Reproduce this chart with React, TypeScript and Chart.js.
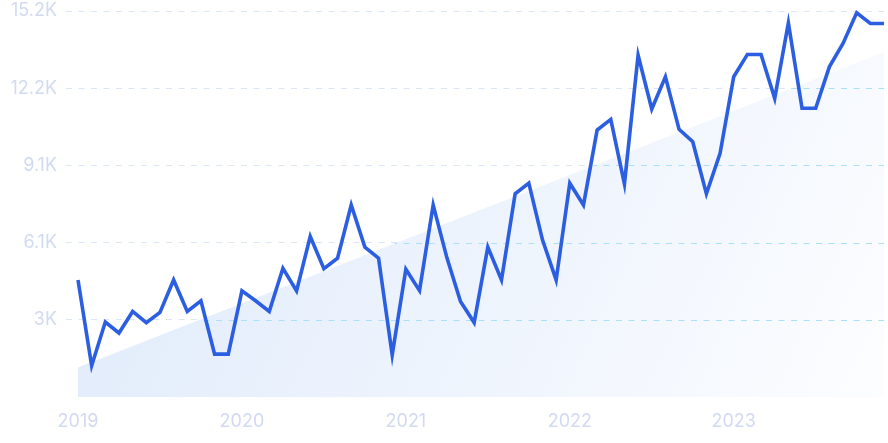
import React, { useEffect, useRef } from "react";
import { Chart, registerables } from "chart.js";

Chart.register(...registerables);

// Monthly values, Jan 2019 .. Dec 2023
const monthlyValues: number[] = [
  4610, 1230, 2950, 2520, 3370, 2930, 3330, 4610, 3370, 3790, 1690, 1690,
  4180, 3790, 3370, 5070, 4180, 6320, 5050, 5470, 7560, 5900, 5470, 1660,
  5030, 4190, 7560, 5490, 3760, 2930, 5900, 4610, 8000, 8420, 6190, 4610,
  8420, 7560, 10510, 10930, 8390, 13460, 11340, 12610, 10540, 10050, 8000, 9600,
  12610, 13490, 13490, 11760, 14730, 11370, 11370, 13000, 13920, 15130, 14710, 14710,
];

// Trend line: value at first and last month
const trendValues: number[] = [1160, 13590];

const yearLabels: string[] = ["2019", "2020", "2021", "2022", "2023"];
const yearTickIndex: number[] = [0, 12, 24, 36, 48];

const yTickValues: number[] = [3040, 6080, 9120, 12160, 15200];
const yTickLabels: string[] = ["3K", "6.1K", "9.1K", "12.2K", "15.2K"];

const GRID_DASH = [6, 6.5];

const trendGridPlugin = {
  id: "trendGrid",
  afterDatasetDraw(chart: any, args: any) {
    if (args.index !== 1) return;
    const pts = args.meta.data;
    if (!pts || pts.length < 2) return;
    const { ctx, chartArea } = chart;
    const yScale = chart.scales.y;
    const p0 = pts[0];
    const p1 = pts[pts.length - 1];
    ctx.save();
    ctx.beginPath();
    ctx.moveTo(p0.x, p0.y);
    ctx.lineTo(p1.x, p1.y);
    ctx.lineTo(p1.x, chartArea.bottom);
    ctx.lineTo(p0.x, chartArea.bottom);
    ctx.closePath();
    ctx.clip();
    ctx.strokeStyle = "#a9e1fb";
    ctx.lineWidth = 1;
    ctx.setLineDash(GRID_DASH);
    yTickValues.forEach((v) => {
      const y = Math.round(yScale.getPixelForValue(v)) + 0.5;
      ctx.beginPath();
      ctx.moveTo(chartArea.left, y);
      ctx.lineTo(chartArea.right, y);
      ctx.stroke();
    });
    ctx.restore();
  },
};

export default function App() {
  const canvasRef = useRef<HTMLCanvasElement | null>(null);

  useEffect(() => {
    if (!canvasRef.current) return;
    const linePoints = monthlyValues.map((v, i) => ({ x: i, y: v }));
    const trendPoints = [
      { x: 0, y: trendValues[0] },
      { x: monthlyValues.length - 1, y: trendValues[1] },
    ];
    const chart = new Chart(canvasRef.current, {
      type: "line",
      data: {
        datasets: [
          {
            data: linePoints,
            borderColor: "#2b5ee0",
            borderWidth: 3.6,
            pointRadius: 0,
            tension: 0,
            fill: false,
            order: 0,
            clip: false as any,
          },
          {
            data: trendPoints,
            borderWidth: 0,
            pointRadius: 0,
            fill: "origin",
            order: 1,
            backgroundColor: (c: any) => {
              const area = c.chart.chartArea;
              if (!area) return "#e6effb";
              const g = c.chart.ctx.createLinearGradient(area.left, area.top, area.right, area.bottom);
              g.addColorStop(0, "#dde9fa");
              g.addColorStop(0.55, "#eef4fd");
              g.addColorStop(1, "#fcfdff");
              return g;
            },
          },
        ],
      },
      options: {
        animation: false,
        responsive: true,
        maintainAspectRatio: false,
        layout: { padding: { top: 11, right: 4, left: 0, bottom: 0 } },
        plugins: { legend: { display: false }, tooltip: { enabled: false } },
        scales: {
          x: {
            type: "linear",
            min: -0.878,
            max: monthlyValues.length - 1,
            afterBuildTicks: (scale: any) => {
              scale.ticks = yearTickIndex.map((v) => ({ value: v }));
            },
            afterFit: (scale: any) => {
              scale.height = 46;
              scale.paddingLeft = 0;
              scale.paddingRight = 0;
            },
            grid: { display: false, drawTicks: false },
            border: { display: false },
            ticks: {
              autoSkip: false,
              maxRotation: 0,
              padding: 14,
              color: "#d2daf2",
              font: { family: "Inter", size: 18 },
              callback: (v: any) => {
                const idx = yearTickIndex.indexOf(Number(v));
                return idx >= 0 ? yearLabels[idx] : "";
              },
            },
          },
          y: {
            min: 0,
            max: 15200,
            afterBuildTicks: (scale: any) => {
              scale.ticks = [{ value: 0 }, ...yTickValues.map((v) => ({ value: v }))];
            },
            afterFit: (scale: any) => {
              scale.width = 66;
              scale.paddingTop = 0;
              scale.paddingBottom = 0;
            },
            border: { display: false, dash: GRID_DASH },
            grid: {
              drawTicks: false,
              color: (c: any) => (c.tick && c.tick.value === 0 ? "rgba(0,0,0,0)" : "#dbe5f8"),
              lineWidth: 1,
            },
            ticks: {
              padding: 9,
              color: "#d2daf2",
              font: { family: "Inter", size: 18 },
              callback: (v: any) => {
                const idx = yTickValues.indexOf(Number(v));
                return idx >= 0 ? yTickLabels[idx] : "";
              },
            },
          },
        },
      },
      plugins: [trendGridPlugin],
    });
    return () => chart.destroy();
  }, []);

  return (
    <div style={{ position: "fixed", left: 0, top: 0, width: 888, height: 443, background: "#ffffff" }}>
      <canvas ref={canvasRef} />
    </div>
  );
}
